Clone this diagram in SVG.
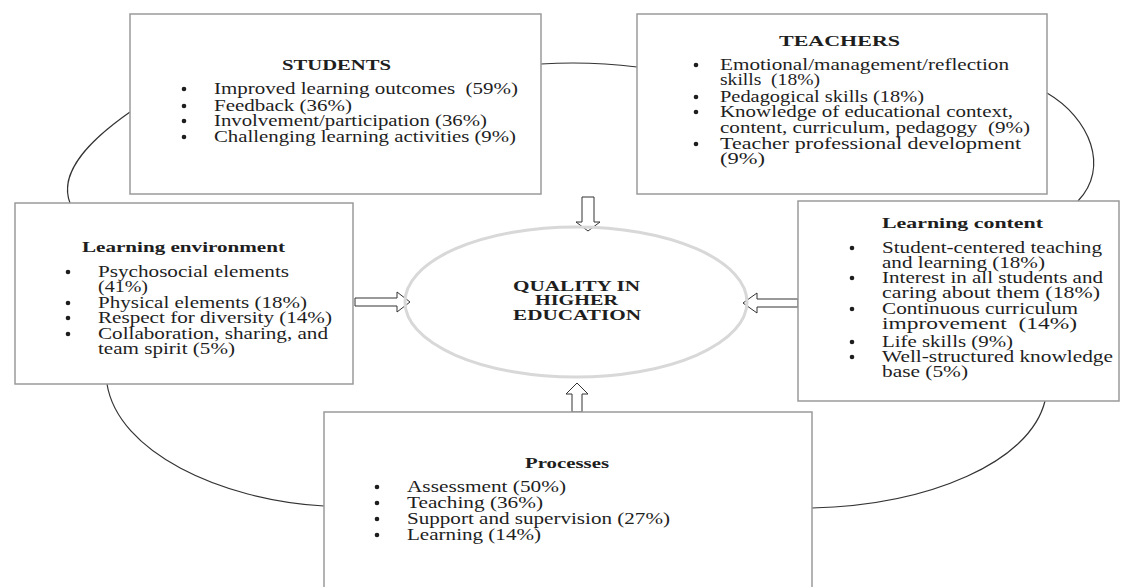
<svg xmlns="http://www.w3.org/2000/svg" width="1123" height="587" viewBox="0 0 1123 587">
<defs>
<style>
.box{fill:#ffffff;stroke:#9a9a9a;stroke-width:1.5}
.t{font-family:"Liberation Serif","Times New Roman",serif;font-size:16px;fill:#1e1e1e}
.h{font-family:"Liberation Serif","Times New Roman",serif;font-size:15.5px;font-weight:bold;fill:#1e1e1e}
.c{font-family:"Liberation Serif","Times New Roman",serif;font-size:14.5px;font-weight:bold;fill:#1e1e1e}
.b{fill:#1e1e1e}
.link{fill:none;stroke:#333333;stroke-width:1.2}
.arr{fill:#ffffff;stroke:#333333;stroke-width:1}
</style>
</defs>
<rect width="1123" height="587" fill="#ffffff"/>

<g id="connectors">
<path class="link" d="M541,64 Q589,61 637,67"/>
<path class="link" d="M130,112 C90,140 58,172 70,203"/>
<path class="link" d="M1047,93 C1090,118 1110,168 1078,201"/>
<path class="link" d="M107,384 C118,452 220,500 324,506"/>
<path class="link" d="M1045,401 C1030,462 930,505 812,508"/>
<path class="arr" d="M355,298 L397,298 L397,292 L410,302 L397,312 L397,306 L355,306 Z"/>
<path class="arr" d="M798,299 L757,299 L757,293 L743,303 L757,313 L757,307 L798,307 Z"/>
<path class="arr" d="M582,197 L594,197 L594,222 L600,222 L588,231 L576,222 L582,222 Z"/>
<path class="arr" d="M572,412 L572,394 L566,394 L577,383 L588,394 L582,394 L582,412 Z"/>
</g>

<g id="quality">
<ellipse cx="576" cy="302" rx="171" ry="75" fill="none" stroke="#d8d8d8" stroke-width="3"/>
<text class="c" x="513" y="291" textLength="127" lengthAdjust="spacingAndGlyphs">QUALITY IN</text>
<text class="c" x="535" y="305" textLength="83" lengthAdjust="spacingAndGlyphs">HIGHER</text>
<text class="c" x="513" y="320" textLength="128" lengthAdjust="spacingAndGlyphs">EDUCATION</text>
</g>

<g id="students">
<rect class="box" x="130" y="14" width="411" height="180"/>
<text class="h" x="282" y="70" textLength="109" lengthAdjust="spacingAndGlyphs">STUDENTS</text>
<circle class="b" cx="184" cy="89" r="2.3"/>
<circle class="b" cx="184" cy="106" r="2.3"/>
<circle class="b" cx="184" cy="121" r="2.3"/>
<circle class="b" cx="184" cy="137" r="2.3"/>
<text class="t" x="214" y="94" textLength="304" lengthAdjust="spacingAndGlyphs">Improved learning outcomes&#160; (59%)</text>
<text class="t" x="214" y="111" textLength="138" lengthAdjust="spacingAndGlyphs">Feedback (36%)</text>
<text class="t" x="214" y="126" textLength="273" lengthAdjust="spacingAndGlyphs">Involvement/participation (36%)</text>
<text class="t" x="214" y="142" textLength="302" lengthAdjust="spacingAndGlyphs">Challenging learning activities (9%)</text>
</g>

<g id="teachers">
<rect class="box" x="637" y="14" width="410" height="180"/>
<text class="h" x="779" y="46" textLength="121" lengthAdjust="spacingAndGlyphs">TEACHERS</text>
<circle class="b" cx="696" cy="65" r="2.3"/>
<circle class="b" cx="696" cy="97" r="2.3"/>
<circle class="b" cx="696" cy="112" r="2.3"/>
<circle class="b" cx="696" cy="144" r="2.3"/>
<text class="t" x="720" y="70" textLength="289" lengthAdjust="spacingAndGlyphs">Emotional/management/reflection</text>
<text class="t" x="720" y="85" textLength="100" lengthAdjust="spacingAndGlyphs">skills&#160; (18%)</text>
<text class="t" x="720" y="102" textLength="204" lengthAdjust="spacingAndGlyphs">Pedagogical skills (18%)</text>
<text class="t" x="720" y="117" textLength="293" lengthAdjust="spacingAndGlyphs">Knowledge of educational context,</text>
<text class="t" x="720" y="133" textLength="310" lengthAdjust="spacingAndGlyphs">content, curriculum, pedagogy&#160; (9%)</text>
<text class="t" x="720" y="149" textLength="301" lengthAdjust="spacingAndGlyphs">Teacher professional development</text>
<text class="t" x="720" y="164" textLength="45" lengthAdjust="spacingAndGlyphs">(9%)</text>
</g>

<g id="learning-environment">
<rect class="box" x="15" y="203" width="338" height="181"/>
<text class="h" x="82" y="252" textLength="203" lengthAdjust="spacingAndGlyphs">Learning environment</text>
<circle class="b" cx="68" cy="272" r="2.3"/>
<circle class="b" cx="68" cy="303" r="2.3"/>
<circle class="b" cx="68" cy="318" r="2.3"/>
<circle class="b" cx="68" cy="334" r="2.3"/>
<text class="t" x="98" y="277" textLength="191" lengthAdjust="spacingAndGlyphs">Psychosocial elements</text>
<text class="t" x="98" y="292" textLength="50" lengthAdjust="spacingAndGlyphs">(41%)</text>
<text class="t" x="98" y="308" textLength="209" lengthAdjust="spacingAndGlyphs">Physical elements (18%)</text>
<text class="t" x="98" y="323" textLength="234" lengthAdjust="spacingAndGlyphs">Respect for diversity (14%)</text>
<text class="t" x="98" y="339" textLength="230" lengthAdjust="spacingAndGlyphs">Collaboration, sharing, and</text>
<text class="t" x="98" y="354" textLength="137" lengthAdjust="spacingAndGlyphs">team spirit (5%)</text>
</g>

<g id="learning-content">
<rect class="box" x="798" y="201" width="321" height="200"/>
<text class="h" x="882" y="228" textLength="161" lengthAdjust="spacingAndGlyphs">Learning content</text>
<circle class="b" cx="852" cy="248" r="2.3"/>
<circle class="b" cx="852" cy="278" r="2.3"/>
<circle class="b" cx="852" cy="309" r="2.3"/>
<circle class="b" cx="852" cy="342" r="2.3"/>
<circle class="b" cx="852" cy="357" r="2.3"/>
<text class="t" x="882" y="253" textLength="220" lengthAdjust="spacingAndGlyphs">Student-centered teaching</text>
<text class="t" x="882" y="268" textLength="163" lengthAdjust="spacingAndGlyphs">and learning (18%)</text>
<text class="t" x="882" y="283" textLength="221" lengthAdjust="spacingAndGlyphs">Interest in all students and</text>
<text class="t" x="882" y="298" textLength="218" lengthAdjust="spacingAndGlyphs">caring about them (18%)</text>
<text class="t" x="882" y="314" textLength="196" lengthAdjust="spacingAndGlyphs">Continuous curriculum</text>
<text class="t" x="882" y="329" textLength="195" lengthAdjust="spacingAndGlyphs">improvement&#160; (14%)</text>
<text class="t" x="882" y="347" textLength="131" lengthAdjust="spacingAndGlyphs">Life skills (9%)</text>
<text class="t" x="882" y="362" textLength="231" lengthAdjust="spacingAndGlyphs">Well-structured knowledge</text>
<text class="t" x="882" y="377" textLength="86" lengthAdjust="spacingAndGlyphs">base (5%)</text>
</g>

<g id="processes">
<rect class="box" x="324" y="412" width="488" height="185"/>
<text class="h" x="525" y="468" textLength="84" lengthAdjust="spacingAndGlyphs">Processes</text>
<circle class="b" cx="377" cy="487" r="2.3"/>
<circle class="b" cx="377" cy="503" r="2.3"/>
<circle class="b" cx="377" cy="519" r="2.3"/>
<circle class="b" cx="377" cy="535" r="2.3"/>
<text class="t" x="407" y="492" textLength="159" lengthAdjust="spacingAndGlyphs">Assessment (50%)</text>
<text class="t" x="407" y="508" textLength="136" lengthAdjust="spacingAndGlyphs">Teaching (36%)</text>
<text class="t" x="407" y="524" textLength="263" lengthAdjust="spacingAndGlyphs">Support and supervision (27%)</text>
<text class="t" x="407" y="540" textLength="134" lengthAdjust="spacingAndGlyphs">Learning (14%)</text>
</g>
</svg>
